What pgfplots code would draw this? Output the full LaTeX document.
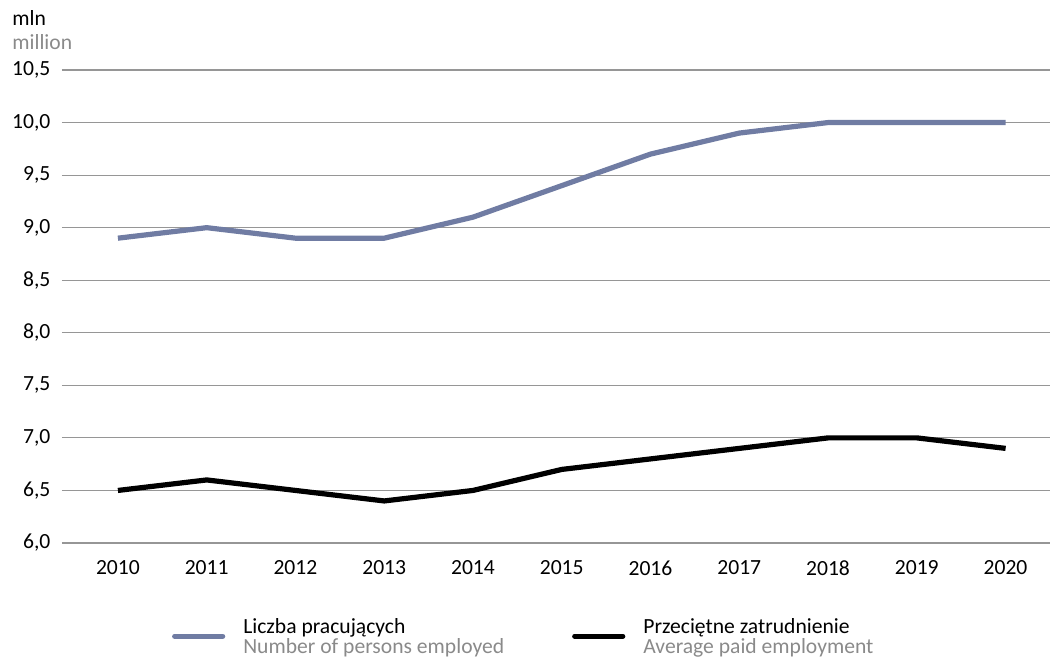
\documentclass[border=0pt]{standalone}
\usepackage{fontspec}
\setmainfont{Carlito}
\usepackage{pgfplots}
\pgfplotsset{compat=1.18}
\definecolor{lineblue}{RGB}{112,124,163}
\definecolor{txtgray}{RGB}{138,138,138}
\definecolor{gridgray}{RGB}{150,150,150}
\begin{document}
\fontsize{10.8pt}{13pt}\selectfont
\begin{tikzpicture}[x=1pt,y=1pt]
\path[use as bounding box] (0,0) rectangle (527,329);
\node[anchor=base west,inner sep=0] at (6,316) {mln};
\node[anchor=base west,inner sep=0,text=txtgray] at (6,304) {million};
\begin{axis}[
  at={(31pt,57.5pt)}, anchor=south west,
  scale only axis, width=494pt, height=236.5pt,
  xmin=2009.37, xmax=2020.5, ymin=6, ymax=10.5,
  xtick={2010,...,2020},
  ytick={6,6.5,...,10.5},
  x tick label style={/pgf/number format/1000 sep={}, yshift=-5pt},
  y tick label style={/pgf/number format/fixed, /pgf/number format/fixed zerofill, /pgf/number format/precision=1, /pgf/number format/use comma, xshift=-2pt},
  /pgf/number format/assume math mode=true,
  ymajorgrids, grid style={gridgray, line width=0.55pt},
  axis line style={draw=none},
  major tick length=0pt,
  tick label style={font=\fontsize{10.8pt}{13pt}\selectfont},
  legend columns=2,
  legend style={at={(axis description cs:0.111,-0.15)}, anchor=north west, draw=none, fill=none,
    inner sep=0pt, font=\fontsize{10.8pt}{11pt}\selectfont,
    /tikz/every odd column/.append style={column sep=7pt},
    /tikz/every even column/.append style={column sep=32pt}},
  legend cell align=left,
  legend image code/.code={\draw[#1, line cap=round] (0pt,-1.5pt) -- (24pt,-1.5pt);},
]
\addplot[lineblue, line width=2.6pt] coordinates {
(2010,8.9) (2011,9.0) (2012,8.9) (2013,8.9) (2014,9.1) (2015,9.4) (2016,9.7) (2017,9.9) (2018,10.0) (2019,10.0) (2020,10.0)};
\addlegendentry{\begin{tabular}{@{}l@{}}Liczba pracujących\\[-1pt]\color{txtgray}Number of persons employed\end{tabular}}
\addplot[black, line width=2.6pt] coordinates {
(2010,6.5) (2011,6.6) (2012,6.5) (2013,6.4) (2014,6.5) (2015,6.7) (2016,6.8) (2017,6.9) (2018,7.0) (2019,7.0) (2020,6.9)};
\addlegendentry{\begin{tabular}{@{}l@{}}Przeciętne zatrudnienie\\[-1pt]\color{txtgray}Average paid employment\end{tabular}}
\end{axis}
\end{tikzpicture}
\end{document}
